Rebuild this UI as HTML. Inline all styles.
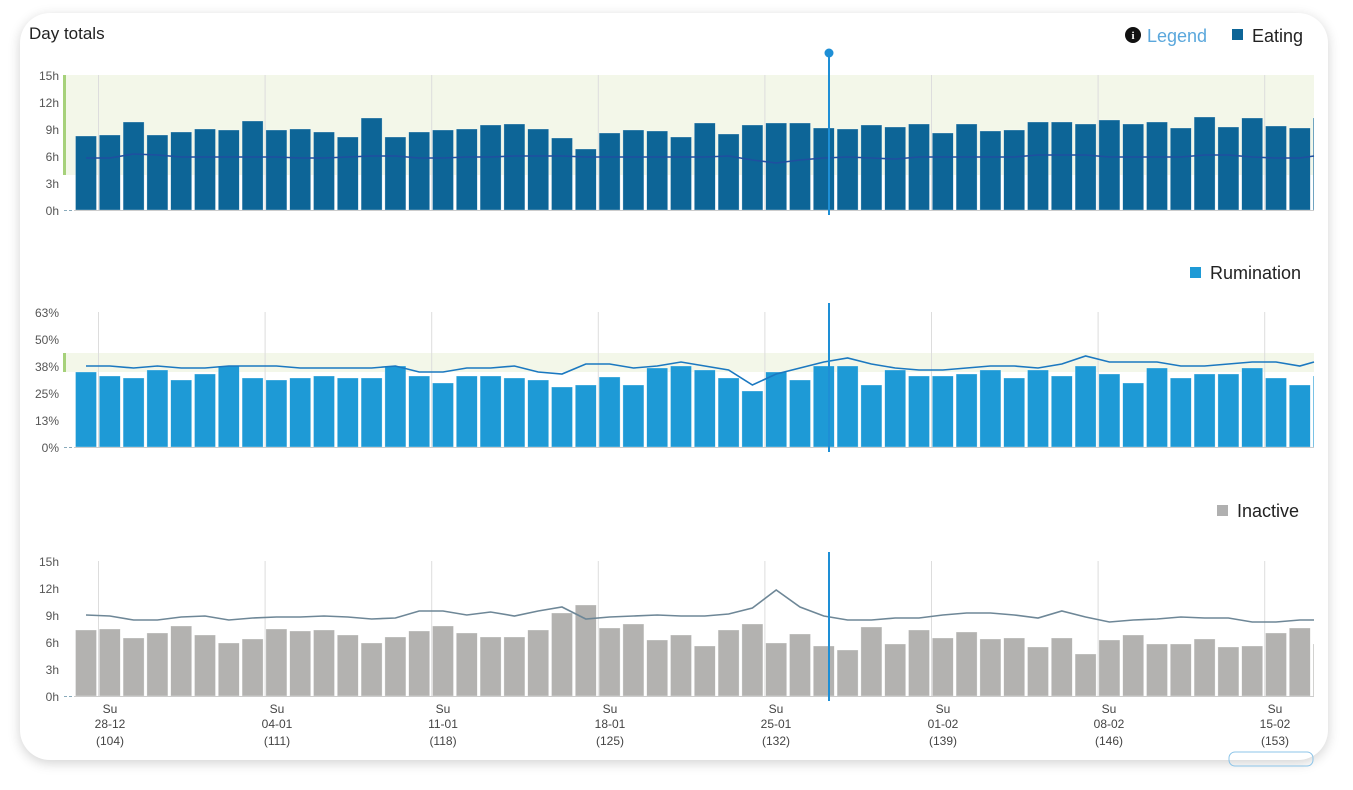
<!DOCTYPE html>
<html><head><meta charset="utf-8"><style>
html,body{margin:0;padding:0;background:#fff;width:1353px;height:790px;overflow:hidden;font-family:"Liberation Sans",sans-serif}
.card{position:absolute;left:20px;top:13px;width:1308px;height:747px;background:#fff;border-radius:30px;box-shadow:0 3px 12px rgba(0,0,0,0.18)}
svg{position:absolute;left:0;top:0}
</style></head><body>
<div class="card"></div>
<svg id="s" width="1353" height="790" xmlns="http://www.w3.org/2000/svg" font-family="Liberation Sans, sans-serif">
<text x="29" y="39" font-size="17" fill="#222">Day totals</text>
<circle cx="1133" cy="35" r="8" fill="#111"/><text x="1133" y="39" font-size="11" font-weight="bold" fill="#fff" text-anchor="middle" font-family="Liberation Serif, serif">i</text>
<text x="1147" y="42" font-size="18" fill="#5aa7dc">Legend</text>
<rect x="1232" y="29" width="11" height="11" fill="#0d6597"/><text x="1252" y="42" font-size="18" fill="#222">Eating</text>
<rect x="1190" y="267" width="11" height="11" fill="#1e9ad6"/><text x="1210" y="279" font-size="18" fill="#222">Rumination</text>
<rect x="1217" y="505" width="11" height="11" fill="#b0b0b0"/><text x="1237" y="517" font-size="18" fill="#222">Inactive</text>
<g font-size="12" fill="#555" text-anchor="end">
<text x="59" y="80">15h</text><text x="59" y="107">12h</text><text x="59" y="134">9h</text><text x="59" y="161">6h</text><text x="59" y="188">3h</text><text x="59" y="215">0h</text>
<text x="59" y="317">63%</text><text x="59" y="344">50%</text><text x="59" y="371">38%</text><text x="59" y="398">25%</text><text x="59" y="425">13%</text><text x="59" y="452">0%</text>
<text x="59" y="566">15h</text><text x="59" y="593">12h</text><text x="59" y="620">9h</text><text x="59" y="647">6h</text><text x="59" y="674">3h</text><text x="59" y="701">0h</text>
</g>
<g font-size="12" fill="#444" text-anchor="middle" id="xl">
<text x="110" y="713">Su</text><text x="110" y="728">28-12</text><text x="110" y="745">(104)</text>
<text x="277" y="713">Su</text><text x="277" y="728">04-01</text><text x="277" y="745">(111)</text>
<text x="443" y="713">Su</text><text x="443" y="728">11-01</text><text x="443" y="745">(118)</text>
<text x="610" y="713">Su</text><text x="610" y="728">18-01</text><text x="610" y="745">(125)</text>
<text x="776" y="713">Su</text><text x="776" y="728">25-01</text><text x="776" y="745">(132)</text>
<text x="943" y="713">Su</text><text x="943" y="728">01-02</text><text x="943" y="745">(139)</text>
<text x="1109" y="713">Su</text><text x="1109" y="728">08-02</text><text x="1109" y="745">(146)</text>
<text x="1275" y="713">Su</text><text x="1275" y="728">15-02</text><text x="1275" y="745">(153)</text>
</g>
<g id="g"></g>
<rect x="1229" y="752" width="84" height="14" rx="6" fill="none" stroke="#8cc4e8"/>
</svg>
<script>
var g=document.getElementById('g'),NS='http://www.w3.org/2000/svg';
function el(t,a){var e=document.createElementNS(NS,t);for(var k in a)e.setAttribute(k,a[k]);g.appendChild(e);return e;}
var E=[136,135,122,135,132,129,130,121,130,129,132,137,118,137,132,130,129,125,124,129,138,149,133,130,131,137,123,134,125,123,123,128,129,125,127,124,133,124,131,130,122,122,124,120,124,122,128,117,127,118,126,128,118];
var R=[372,376,378,370,380,374,366,378,380,378,376,378,378,366,376,383,376,376,378,380,387,385,377,385,368,366,370,378,391,372,380,366,366,385,370,376,376,374,370,378,370,376,366,374,383,368,378,374,374,368,378,385,376];
var I=[630,629,638,633,626,635,643,639,629,631,630,635,643,637,631,626,633,637,637,630,613,605,628,624,640,635,646,630,624,643,634,646,650,627,644,630,638,632,639,638,647,638,654,640,635,644,644,639,647,646,633,628,644];
var EL=[158,158,154,155,157,157,157,157,157,158,158,157,156,156,158,158,157,157,156,156,156,157,157,157,157,157,157,156,160,163,160,158,157,158,159,157,157,157,157,157,155,155,155,157,157,157,157,155,155,157,158,158,156];
var RL=[366,366,368,366,368,368,366,366,366,368,368,368,368,366,372,372,368,368,366,372,374,364,364,368,366,362,366,370,385,374,368,362,358,364,368,370,370,368,366,366,368,364,356,362,362,362,366,366,364,362,362,366,362];
var IL=[615,616,620,620,617,616,620,618,617,617,616,617,619,618,611,611,615,612,616,611,607,619,617,616,615,616,616,614,608,590,607,616,620,620,618,618,615,613,613,615,618,611,617,622,620,619,617,618,618,622,622,620,620];
function chart(top,bot,band,bandTop,bandBot,vals,line,fill,lc){
 if(band){el('rect',{x:66,y:bandTop,width:1248,height:bandBot-bandTop,fill:'#f3f7e9'});el('rect',{x:63,y:bandTop,width:3,height:bandBot-bandTop,fill:'#a6d17a'});}
 for(var k=0;k<8;k++){var x=98.5+k*166.6;el('line',{x1:x,x2:x,y1:top,y2:bot,stroke:'#ddd','stroke-width':1});}
 el('line',{x1:64,x2:72,y1:bot+0.5,y2:bot+0.5,stroke:'#8ab','stroke-width':1,'stroke-dasharray':'3,2'});
 for(var i=0;i<vals.length;i++){var x=75.5+i*23.8,w=Math.min(21,1314-x);if(w<=0)continue;el('rect',{x:x,y:vals[i],width:w,height:bot-vals[i],fill:fill,stroke:'rgba(255,255,255,0.5)','stroke-width':0.6});}
 el('line',{x1:74,x2:1314,y1:bot+0.5,y2:bot+0.5,stroke:'#ccc'});
 var p='';for(var i=0;i<line.length;i++){var x=Math.min(86+i*23.8,1314);p+=(i?'L':'M')+x+','+line[i];}
 el('path',{d:p,fill:'none',stroke:lc,'stroke-width':1.6});
}
chart(75,210,true,75,175,E,EL,'#0d6597','#1f4fa0');
chart(312,447,true,353,372,R,RL,'#1e9ad6','#1b78c0');
chart(561,696,false,0,0,I,IL,'#b3b2b0','#6e8797');
el('line',{x1:829,x2:829,y1:56,y2:215,stroke:'#1e8fd6','stroke-width':2});
el('circle',{cx:829,cy:53,r:4.5,fill:'#1e8fd6'});
el('line',{x1:829,x2:829,y1:303,y2:452,stroke:'#1e8fd6','stroke-width':2});
el('line',{x1:829,x2:829,y1:552,y2:701,stroke:'#1e8fd6','stroke-width':2});
</script>
</body></html>
